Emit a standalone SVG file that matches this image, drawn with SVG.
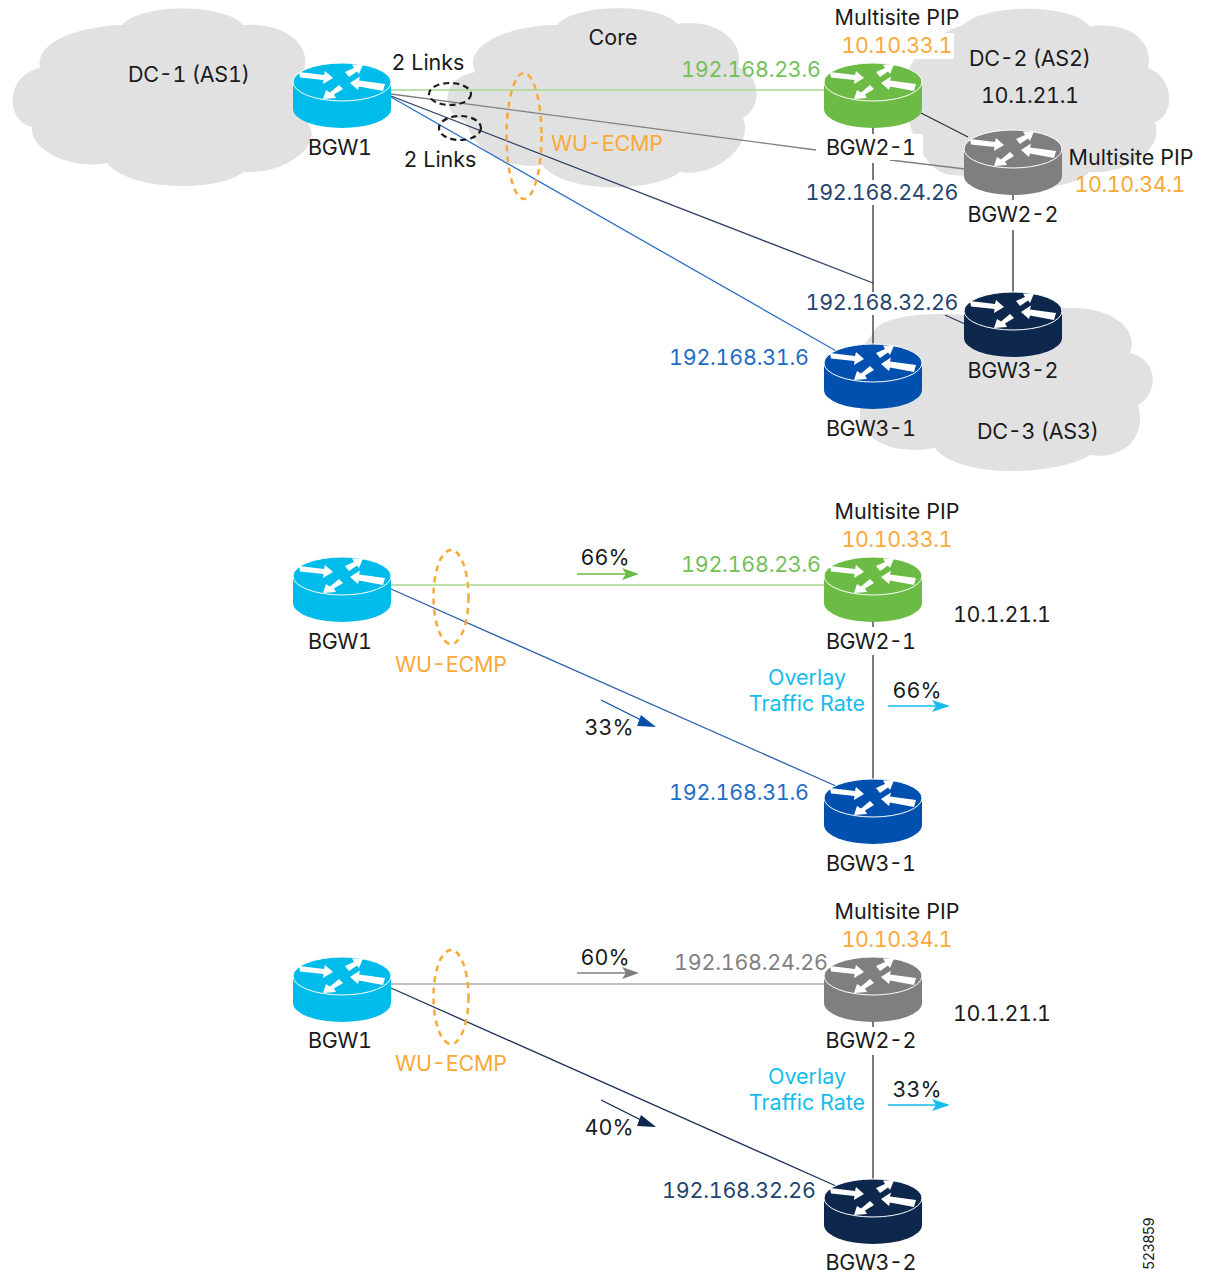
<svg xmlns="http://www.w3.org/2000/svg" width="1209" height="1274" viewBox="0 0 1209 1274">
<style>
text{font-family:"Inter","Liberation Sans",sans-serif;font-size:21.5px;fill:#1a1a1a;font-variant-numeric:tabular-nums}
.m{text-anchor:middle}
.or{fill:#f9a93a}.gr{fill:#74bf5a}.na{fill:#25436f}.bl{fill:#1f6cc4}.cy{fill:#15bcec}.gy{fill:#7f7f7f}
.cloud{fill:#e1e1e1}
.wh{fill:#fff}
.l{fill:none;stroke-width:1.3}
.ov{fill:none;stroke:#f9a93a;stroke-width:2.5;stroke-dasharray:6 5}
.bk{fill:none;stroke:#1a1a1a;stroke-width:2.2;stroke-dasharray:6 4}
</style>
<defs>
<g id="router">
<path d="M-49 0V27A49 19 0 0 0 49 27V0Z" fill="currentColor"/>
<ellipse cx="0" cy="0" rx="49" ry="19" fill="currentColor" stroke="#fff" stroke-width="1"/>
<path d="M-43-10L-18-7L-17-11L-9-4L-19 2L-18.500-2L-42-4.500Z M3-10L12-14L10-17.500L21-17.500L17-8L15-10.500L7-5Z M43 2L17-1.500L18-5.500L8 1L16 8L17 4.500L41 9Z M-3 3L1 7L-8 12.500L-6 16L-19 17L-16 8L-12 10.500Z" fill="#fff"/>
</g>
</defs>
<g id="clouds">
<path id="cloud-dc1" class="cloud" d="M40 68C34 42 80 26 122 25C140 3 225 3 243 25C285 22 312 45 304 70L300 110L310 127C320 150 280 175 243 172C220 192 130 192 107 163C70 170 30 150 32 127C5 122 5 75 40 68Z"/>
<path id="cloud-core" class="cloud" d="M475 72C462 45 510 25 557 25C575 3 660 3 677 24C715 18 745 40 738 67C762 75 762 108 743 118C755 145 715 178 680 172C655 192 565 195 542 165C515 170 475 155 466 122C440 115 440 78 475 72Z"/>
<path id="cloud-dc2" class="cloud" d="M905 90C905 60 930 35 963 25C985 3 1075 3 1090 27C1125 20 1155 40 1148 68C1175 78 1175 115 1155 122C1165 150 1125 175 1090 172C1070 190 1020 192 1000 178L950 175C920 170 905 120 905 90Z"/>
<path id="cloud-dc3" class="cloud" d="M873 333C880 315 930 312 965 315L1063 308C1105 305 1140 325 1130 353C1160 360 1158 395 1138 405C1148 440 1120 460 1090 455C1060 475 960 480 935 448C910 452 880 452 860 425L860 350Z"/>
</g>
<g id="connectors">
<path class="l" stroke="#a6d78f" stroke-width="1.600" d="M391 90H825"/>
<path class="l" stroke="#808080" d="M391 94L816 150M890 160L965 169"/>
<path class="l" stroke="#2a3f63" d="M391 96L873 283M945 315L965 324"/>
<path class="l" stroke="#2a6fc4" d="M391 97L838 352"/>
<path class="l" stroke="#333" d="M873 128V135M873 163V180M873 205V292M873 315V345M921 113L968 137M1013 195V200M1013 230V292"/>
<path class="l" stroke="#a6d78f" d="M391 585H825"/>
<path class="l" stroke="#2a5fae" d="M391 589L836 786"/>
<path class="l" stroke="#333" d="M873 622V627M873 655V779"/>
<path class="l" stroke="#adadad" stroke-width="2" d="M391 984H825"/>
<path class="l" stroke="#1b3358" d="M391 988L836 1186"/>
<path class="l" stroke="#333" d="M873 1022V1027M873 1055V1179"/>
<path class="l" stroke="#6cbb45" d="M577 574H630"/><path d="M622 568L639 574L622 580L626 574Z" fill="#6cbb45"/>
<path class="l" stroke="#0a4fa8" d="M601 700L645 722"/><path d="M641 715L656 727L637 726Z" fill="#0a4fa8"/>
<path class="l" stroke="#15bcec" d="M888 706H940"/><path d="M932 700L950 706L932 712L936 706Z" fill="#15bcec"/>
<path class="l" stroke="#7f7f7f" d="M577 973H630"/><path d="M622 967L639 973L622 979L626 973Z" fill="#7f7f7f"/>
<path class="l" stroke="#0d274d" d="M601 1100L645 1122"/><path d="M641 1115L656 1127L637 1126Z" fill="#0d274d"/>
<path class="l" stroke="#15bcec" d="M888 1105H940"/><path d="M932 1099L950 1105L932 1111L936 1105Z" fill="#15bcec"/>
<ellipse class="bk" cx="450" cy="94" rx="21" ry="11"/>
<ellipse class="bk" cx="460" cy="128" rx="21" ry="12"/>
<ellipse class="ov" cx="524" cy="136" rx="17.500" ry="63"/>
<ellipse class="ov" cx="451" cy="597" rx="17.500" ry="47"/>
<ellipse class="ov" cx="451" cy="997" rx="17.500" ry="47"/>
</g>
<g id="labels-panel1">
<text class="m" x="189" y="82" textLength="122">DC-1 (AS1)</text>
<text class="m" x="613" y="45">Core</text>
<text class="m" x="428" y="70">2 Links</text>
<text class="m" x="440" y="167">2 Links</text>
<text class="or" x="551" y="151" textLength="112">WU-ECMP</text>
<text class="m gr" x="751" y="77" textLength="140">192.168.23.6</text>
<text class="m" x="897" y="25">Multisite PIP</text>
<rect class="wh" x="841" y="33" width="113" height="26"/>
<text class="m or" x="897" y="53" textLength="111">10.10.33.1</text>
<text class="m" x="1030" y="66" textLength="122">DC-2 (AS2)</text>
<text class="m" x="1030" y="103" textLength="98">10.1.21.1</text>
<text class="m na" x="882" y="200" textLength="153">192.168.24.26</text>
<text class="m" x="1131" y="165">Multisite PIP</text>
<text class="m or" x="1130" y="192" textLength="111">10.10.34.1</text>
<text class="m na" x="882" y="310" textLength="153">192.168.32.26</text>
<text class="m bl" x="739" y="365" textLength="140">192.168.31.6</text>
<text class="m" x="1038" y="439" textLength="122">DC-3 (AS3)</text>
</g>
<g id="node-p1-bgw1"><use href="#router" x="342" y="82" color="#00bceb"/><text class="m" x="340" y="155" textLength="64">BGW1</text></g>
<g id="node-p1-bgw2-1"><use href="#router" x="873" y="82" color="#6cbb45"/><rect class="wh" x="824" y="134" width="99" height="26"/><text class="m" x="871" y="155" textLength="90">BGW2-1</text></g>
<g id="node-p1-bgw2-2"><use href="#router" x="1013" y="149" color="#7f7f7f"/><text class="m" x="1013" y="222" textLength="91">BGW2-2</text></g>
<g id="node-p1-bgw3-2"><use href="#router" x="1013" y="311" color="#0d274d"/><text class="m" x="1013" y="378" textLength="91">BGW3-2</text></g>
<g id="node-p1-bgw3-1"><use href="#router" x="873" y="363" color="#0051af"/><text class="m" x="871" y="436" textLength="90">BGW3-1</text></g>
<g id="labels-panel2">
<text class="m" x="605" y="565">66%</text>
<text class="m gr" x="751" y="572" textLength="140">192.168.23.6</text>
<text class="m" x="897" y="519">Multisite PIP</text>
<text class="m or" x="897" y="547" textLength="111">10.10.33.1</text>
<text class="m" x="1002" y="622" textLength="98">10.1.21.1</text>
<text class="m or" x="451" y="672" textLength="112">WU-ECMP</text>
<text class="m cy" x="807" y="685">Overlay</text>
<text class="m cy" x="807" y="711">Traffic Rate</text>
<text class="m" x="917" y="698">66%</text>
<text class="m" x="609" y="735">33%</text>
<text class="m bl" x="739" y="800" textLength="140">192.168.31.6</text>
</g>
<g id="node-p2-bgw1"><use href="#router" x="342" y="576" color="#00bceb"/><text class="m" x="340" y="649" textLength="64">BGW1</text></g>
<g id="node-p2-bgw2-1"><use href="#router" x="873" y="576" color="#6cbb45"/><text class="m" x="871" y="649" textLength="90">BGW2-1</text></g>
<g id="node-p2-bgw3-1"><use href="#router" x="873" y="798" color="#0051af"/><text class="m" x="871" y="871" textLength="90">BGW3-1</text></g>
<g id="labels-panel3">
<text class="m" x="605" y="965">60%</text>
<text class="m gy" x="751" y="970" textLength="154">192.168.24.26</text>
<text class="m" x="897" y="919">Multisite PIP</text>
<text class="m or" x="897" y="947" textLength="111">10.10.34.1</text>
<text class="m" x="1002" y="1021" textLength="98">10.1.21.1</text>
<text class="m or" x="451" y="1071" textLength="112">WU-ECMP</text>
<text class="m cy" x="807" y="1084">Overlay</text>
<text class="m cy" x="807" y="1110">Traffic Rate</text>
<text class="m" x="917" y="1097">33%</text>
<text class="m" x="609" y="1135">40%</text>
<text class="m na" x="739" y="1198" textLength="154">192.168.32.26</text>
<text x="1154" y="1270" transform="rotate(-90 1154 1270)" style="font-size:14.500px" textLength="53">523859</text>
</g>
<g id="node-p3-bgw1"><use href="#router" x="342" y="976" color="#00bceb"/><text class="m" x="340" y="1048" textLength="64">BGW1</text></g>
<g id="node-p3-bgw2-2"><use href="#router" x="873" y="976" color="#7f7f7f"/><text class="m" x="871" y="1048" textLength="91">BGW2-2</text></g>
<g id="node-p3-bgw3-2"><use href="#router" x="873" y="1198" color="#0d274d"/><text class="m" x="871" y="1270" textLength="91">BGW3-2</text></g>
</svg>
